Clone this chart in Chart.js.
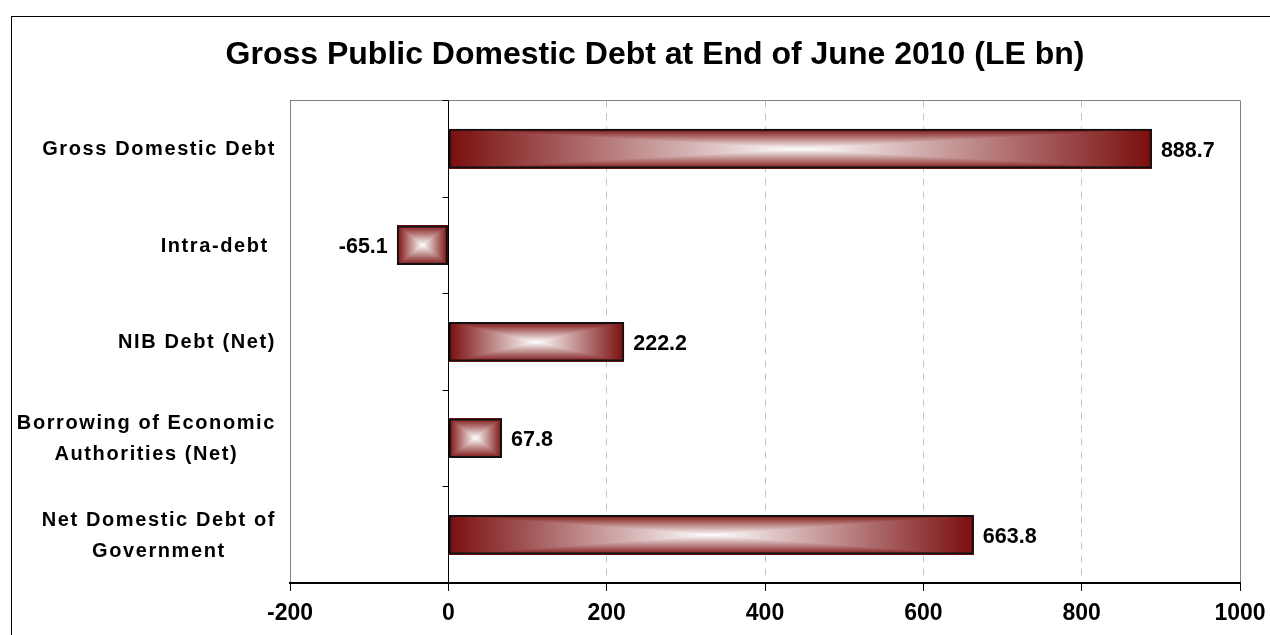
<!DOCTYPE html>
<html>
<head>
<meta charset="utf-8">
<title>Gross Public Domestic Debt at End of June 2010</title>
<script src="https://cdn.jsdelivr.net/npm/chart.js@4.4.0/dist/chart.umd.min.js"></script>
<style>
  html, body { margin: 0; padding: 0; background: #fff; }
  #wrap { width: 1270px; height: 635px; }
</style>
</head>
<body>
<div id="wrap"><canvas id="debtChart" width="1270" height="635"></canvas></div>
<script>
// Debt components, LE bn
const categories = [
    ['Gross Domestic Debt'],
    ['Intra-debt '],
    ['NIB Debt (Net)'],
    ['Borrowing of Economic', 'Authorities (Net)'],
    ['Net Domestic Debt of', 'Government']
];
const values = [888.7, -65.1, 222.2, 67.8, 663.8];
const axisMin = -200;
const axisMax = 1000;
const axisStep = 200;

const FONT = '"Liberation Sans", Arial, Helvetica, sans-serif';
const DARK_RED = [122, 14, 14];

Chart.defaults.font.family = FONT;
Chart.defaults.color = '#000';

// white centre fading out to dark red at every edge of the bar
function paintBarGradient(ctx, left, top, w, h) {
    w = Math.max(1, Math.round(w));
    h = Math.max(1, Math.round(h));
    const off = document.createElement('canvas');
    off.width = w;
    off.height = h;
    const octx = off.getContext('2d');
    const img = octx.createImageData(w, h);
    const hw = w / 2, hh = h / 2;
    for (let j = 0; j < h; j++) {
        const dy = Math.abs(j + 0.5 - hh) / hh;
        for (let i = 0; i < w; i++) {
            const dx = Math.abs(i + 0.5 - hw) / hw;
            const t = Math.min(1, Math.max(dx, dy));
            const k = (j * w + i) * 4;
            img.data[k] = 255 + (DARK_RED[0] - 255) * t;
            img.data[k + 1] = 255 + (DARK_RED[1] - 255) * t;
            img.data[k + 2] = 255 + (DARK_RED[2] - 255) * t;
            img.data[k + 3] = 255;
        }
    }
    octx.putImageData(img, 0, 0);
    ctx.drawImage(off, Math.round(left), Math.round(top));
}

const framePlugin = {
    id: 'frame',
    beforeDraw(chart) {
        const ctx = chart.ctx;
        ctx.save();
        ctx.fillStyle = '#fff';
        ctx.fillRect(0, 0, chart.width, chart.height);
        ctx.strokeStyle = '#000';
        ctx.lineWidth = 1;
        ctx.strokeRect(11.5, 16.5, chart.width + 20, chart.height + 20);
        ctx.restore();
    },
    beforeDatasetsDraw(chart) {
        const ctx = chart.ctx;
        const area = chart.chartArea;
        const y = chart.scales.y;
        const x = chart.scales.x;
        ctx.save();
        // top edge of the plot area
        ctx.strokeStyle = '#808080';
        ctx.lineWidth = 1;
        ctx.beginPath();
        ctx.moveTo(area.left, Math.round(area.top) + 0.5);
        ctx.lineTo(area.right, Math.round(area.top) + 0.5);
        ctx.stroke();
        // category tick marks on the zero line
        const zero = Math.round(x.getPixelForValue(0)) + 0.5;
        ctx.strokeStyle = '#000';
        ctx.beginPath();
        for (let i = 0; i <= categories.length; i++) {
            const py = Math.round(y.getPixelForDecimal(i / categories.length)) + 0.5;
            ctx.moveTo(zero - 6, py);
            ctx.lineTo(zero, py);
        }
        ctx.stroke();
        // bar fills
        chart.getDatasetMeta(0).data.forEach(bar => {
            const p = bar.getProps(['x', 'y', 'base', 'height'], true);
            const left = Math.min(p.x, p.base);
            const w = Math.abs(p.x - p.base);
            paintBarGradient(ctx, left, p.y - p.height / 2, w, p.height);
        });
        ctx.restore();
    },
    afterDatasetsDraw(chart) {
        const ctx = chart.ctx;
        ctx.save();
        ctx.font = 'bold 21.5px ' + FONT;
        ctx.fillStyle = '#000';
        ctx.textBaseline = 'middle';
        chart.getDatasetMeta(0).data.forEach((bar, i) => {
            const v = values[i];
            const p = bar.getProps(['x', 'y'], true);
            ctx.textAlign = v < 0 ? 'right' : 'left';
            ctx.fillText(v.toFixed(1), v < 0 ? p.x - 9 : p.x + 9, p.y + 2);
        });
        ctx.restore();
    },
    afterDraw(chart) {
        // category names: right-aligned block, lines centred inside it
        const ctx = chart.ctx;
        const y = chart.scales.y;
        const rightEdge = 276;
        const lineGap = 31;
        ctx.save();
        ctx.font = 'bold 20px ' + FONT;
        ctx.letterSpacing = '1.6px';
        ctx.fillStyle = '#000';
        ctx.textAlign = 'center';
        ctx.textBaseline = 'middle';
        categories.forEach((lines, i) => {
            const cy = y.getPixelForValue(i) + 1;
            const blockW = Math.max(...lines.map(l => ctx.measureText(l).width));
            const cx = rightEdge - blockW / 2;
            const y0 = cy - (lines.length - 1) * lineGap / 2;
            lines.forEach((line, j) => ctx.fillText(line, cx, y0 + j * lineGap));
        });
        ctx.restore();
    }
};

new Chart(document.getElementById('debtChart'), {
    type: 'bar',
    data: {
        labels: categories,
        datasets: [{
            data: values,
            backgroundColor: 'rgba(0,0,0,0)',
            borderColor: '#111',
            borderWidth: 2,
            borderSkipped: false,
            categoryPercentage: 1,
            barPercentage: 0.41
        }]
    },
    options: {
        indexAxis: 'y',
        responsive: false,
        animation: false,
        layout: { padding: { left: 70, right: 30, top: 0, bottom: 0 } },
        plugins: {
            legend: { display: false },
            tooltip: { enabled: false },
            title: {
                display: true,
                text: 'Gross Public Domestic Debt at End of June 2010 (LE bn)',
                font: { size: 32, weight: 'bold' },
                color: '#000',
                padding: { top: 36, bottom: 26 }
            }
        },
        scales: {
            x: {
                type: 'linear',
                min: axisMin,
                max: axisMax,
                afterFit: scale => {
                    scale.height = 52;
                    scale.paddingLeft = 0;
                    scale.paddingRight = 0;
                },
                ticks: {
                    stepSize: axisStep,
                    padding: 9,
                    font: { size: 23, weight: 'bold' },
                    color: '#000',
                    callback: v => String(v)
                },
                grid: {
                    color: ctx => {
                        const v = ctx.tick ? ctx.tick.value : null;
                        if (v === 0) return '#000';
                        if (v === axisMin || v === axisMax) return '#808080';
                        return '#c4c4c4';
                    },
                    lineWidth: 1,
                    tickLength: 8,
                    tickColor: '#000'
                },
                border: {
                    display: true,
                    color: '#000',
                    width: 2,
                    dash: ctx => {
                        const v = ctx.tick ? ctx.tick.value : null;
                        return (v !== null && v > 0 && v < axisMax) ? [7, 6] : [];
                    }
                }
            },
            y: {
                afterFit: scale => { scale.width = 220; },
                ticks: { display: false },
                grid: { display: false },
                border: { display: false }
            }
        }
    },
    plugins: [framePlugin]
});
</script>
</body>
</html>
